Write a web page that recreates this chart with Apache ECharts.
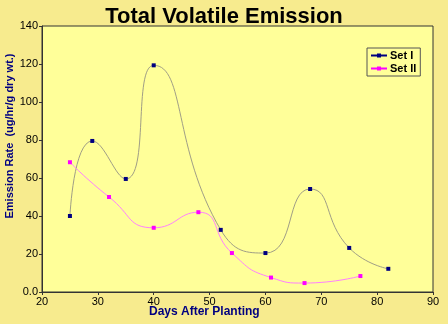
<!DOCTYPE html>
<html><head><meta charset="utf-8">
<script src="https://cdn.jsdelivr.net/npm/echarts@6/dist/echarts.min.js"></script>
<style>html,body{margin:0;padding:0;background:#f7eb8e}#c{width:448px;height:324px}</style>
</head><body><div id="c"></div>
<script>
const setIDays = [25, 29, 35, 40, 52, 60, 68, 75, 82];
const setIValues = [40, 79.5, 59.5, 119.3, 32.7, 20.5, 54.2, 23.2, 12.2];
const setIIDays = [25, 32, 40, 48, 54, 61, 67, 77];
const setIIValues = [68.3, 50, 33.8, 42, 20.5, 7.6, 4.7, 8.4];
const seriesNames = ['Set I', 'Set II'];
const titleText = 'Total Volatile Emission';
const xAxisTitle = 'Days After Planting';
const yAxisTitle = 'Emission Rate  (ug/hr/g dry wt.)';

const chart = echarts.init(document.getElementById('c'));
chart.setOption({
  backgroundColor: '#f7eb8e',
  animation: false,
  title: {text: titleText, left: 219, textAlign: 'center', top: 1,
    textStyle: {fontFamily: 'Liberation Sans, Arial', fontWeight: 'bold', fontSize: 22, color: '#000'}},
  grid: {left: 42, top: 26, right: 15, bottom: 32, show: true, backgroundColor: '#ffff99', borderColor: '#333', borderWidth: 1},
  legend: {
    orient: 'vertical', left: 367, top: 48, padding: [2, 4, 2, 3], itemGap: 2,
    itemWidth: 16, itemHeight: 5,
    backgroundColor: '#ffff99', borderColor: '#555', borderWidth: 1,
    textStyle: {fontFamily: 'Liberation Sans, Arial', fontWeight: 'bold', fontSize: 11, lineHeight: 10, color: '#000', padding: [0,0,0,-2]},
    data: [
      {name: seriesNames[0], itemStyle: {color: '#000080'}, lineStyle: {color: '#000080', width: 2}},
      {name: seriesNames[1], itemStyle: {color: '#ff00ff'}, lineStyle: {color: '#ff00ff', width: 2}}
    ]
  },
  xAxis: {
    type: 'value', min: 20, max: 90, interval: 10,
    axisLine: {show: true, lineStyle: {color: '#333'}},
    axisTick: {show: true, length: 3, lineStyle: {color: '#333'}},
    splitLine: {show: false},
    axisLabel: {fontFamily: 'Liberation Sans, Arial', fontSize: 11, color: '#000', margin: 4}
  },
  yAxis: {
    type: 'value', min: 0, max: 140, interval: 20,
    axisLine: {show: true, lineStyle: {color: '#333'}},
    axisTick: {show: true, length: 3, lineStyle: {color: '#333'}},
    splitLine: {show: false},
    axisLabel: {fontFamily: 'Liberation Sans, Arial', fontSize: 11, color: '#000', margin: 4,
      formatter: v => v === 0 ? '0.0' : String(v)}
  },
  graphic: [
    {type: 'text', left: 149, top: 306, style: {text: xAxisTitle, font: 'bold 12px "Liberation Sans", Arial', fill: '#000080'}},
    {type: 'text', x: 4, y: 136, rotation: Math.PI/2, style: {text: yAxisTitle, font: 'bold 11px "Liberation Sans", Arial', fill: '#000080', align: 'center', verticalAlign: 'top'}}
  ],
  series: [
    {name: seriesNames[0], type: 'line', smooth: 0.55, symbol: 'rect', symbolSize: 4,
      itemStyle: {color: '#000080'}, lineStyle: {color: '#a09e86', width: 1},
      data: setIDays.map((d, i) => [d, setIValues[i]])},
    {name: seriesNames[1], type: 'line', smooth: 0.55, symbol: 'rect', symbolSize: 4,
      itemStyle: {color: '#ff00ff'}, lineStyle: {color: '#ff80ff', width: 1},
      data: setIIDays.map((d, i) => [d, setIIValues[i]])}
  ]
});
</script></body></html>
